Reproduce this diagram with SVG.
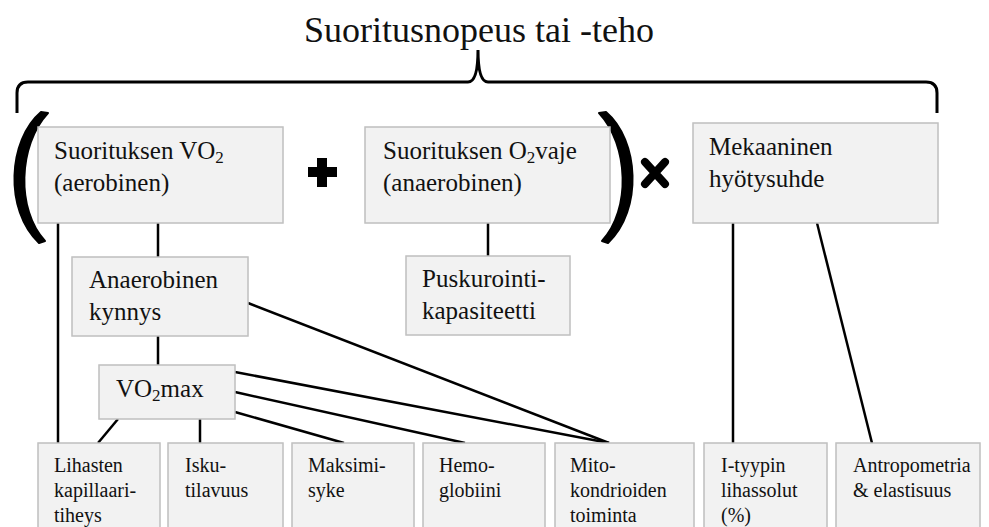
<svg xmlns="http://www.w3.org/2000/svg" width="989" height="527" viewBox="0 0 989 527">
<style>
.box{fill:#f2f2f2;stroke:#bfbfbf;stroke-width:1.5}
.c{stroke:#000;stroke-width:2.5;fill:none}
</style>
<rect width="989" height="527" fill="#fff"/>
<text x="479" y="42" font-size="36" font-family="Liberation Serif" fill="#111" text-anchor="middle">Suoritusnopeus tai -teho</text>
<path d="M17,113 V93 Q17,82 28,82 H468 Q478,82 478,50 Q478,82 488,82 H926 Q937,82 937,93 V113" fill="none" stroke="#000" stroke-width="3"/>
<path d="M41,112 C8,140 4,210 39,243 L45,241 C16,210 18,145 48,113 Z" fill="#000" stroke="#000" stroke-width="2" stroke-linejoin="round"/>
<path d="M606,112 C639,140 643,210 608,243 L602,241 C631,210 629,145 599,113 Z" fill="#000" stroke="#000" stroke-width="2" stroke-linejoin="round"/>
<path d="M322,158 V187 M308,172 H337" stroke="#000" stroke-width="10"/>
<path d="M645,162 L665,184 M665,162 L645,184" stroke="#000" stroke-width="8" stroke-linecap="round"/>
<g id="connectors">
<line class="c" x1="58" y1="223" x2="58" y2="443"/>
<line class="c" x1="158" y1="223" x2="158" y2="257"/>
<line class="c" x1="158" y1="336" x2="158" y2="365"/>
<line class="c" x1="488" y1="223" x2="488" y2="256"/>
<line class="c" x1="733" y1="223" x2="733" y2="443"/>
<line class="c" x1="817" y1="223" x2="872" y2="443"/>
<line class="c" x1="248" y1="303" x2="609" y2="443"/>
<line class="c" x1="235" y1="372" x2="609" y2="443"/>
<line class="c" x1="235" y1="392" x2="465" y2="443"/>
<line class="c" x1="235" y1="412" x2="344" y2="443"/>
<line class="c" x1="200" y1="419" x2="200" y2="443"/>
<line class="c" x1="118" y1="419" x2="98" y2="443"/>
</g>
<g id="n-aerob"><rect class="box" x="38" y="127" width="245" height="96"/>
<text x="54" y="159" font-family="Liberation Serif" font-size="25" fill="#111">Suorituksen VO<tspan font-size="17" dy="4">2</tspan></text>
<text x="54" y="191" font-family="Liberation Serif" font-size="25" fill="#111">(aerobinen)</text></g>
<g id="n-anaerob"><rect class="box" x="365" y="127" width="245" height="96"/>
<text x="383" y="159" font-family="Liberation Serif" font-size="25" fill="#111">Suorituksen O<tspan font-size="17" dy="4">2</tspan><tspan dy="-4">vaje</tspan></text>
<text x="383" y="191" font-family="Liberation Serif" font-size="25" fill="#111">(anaerobinen)</text></g>
<g id="n-mek"><rect class="box" x="693" y="123" width="245" height="100"/>
<text x="709" y="155" font-family="Liberation Serif" font-size="25" fill="#111">Mekaaninen</text>
<text x="709" y="187" font-family="Liberation Serif" font-size="25" fill="#111">hyötysuhde</text></g>
<g id="n-kynnys"><rect class="box" x="72" y="257" width="176" height="79"/>
<text x="89" y="288" font-family="Liberation Serif" font-size="25" fill="#111">Anaerobinen</text>
<text x="89" y="320" font-family="Liberation Serif" font-size="25" fill="#111">kynnys</text></g>
<g id="n-pusk"><rect class="box" x="406" y="256" width="164" height="79"/>
<text x="422" y="287" font-family="Liberation Serif" font-size="25" fill="#111">Puskurointi-</text>
<text x="422" y="319" font-family="Liberation Serif" font-size="25" fill="#111">kapasiteetti</text></g>
<g id="n-vo2max"><rect class="box" x="99" y="365" width="136" height="54"/>
<text x="116" y="397" font-family="Liberation Serif" font-size="25" fill="#111">VO<tspan font-size="17" dy="4">2</tspan><tspan dy="-4">max</tspan></text></g>
<g id="n-lihasten"><rect class="box" x="38" y="443" width="122" height="100"/>
<text x="54" y="472" font-family="Liberation Serif" font-size="20" fill="#111">Lihasten</text>
<text x="54" y="497" font-family="Liberation Serif" font-size="20" fill="#111">kapillaari-</text>
<text x="54" y="522" font-family="Liberation Serif" font-size="20" fill="#111">tiheys</text></g>
<g id="n-isku"><rect class="box" x="168" y="443" width="115" height="100"/>
<text x="185" y="472" font-family="Liberation Serif" font-size="20" fill="#111">Isku-</text>
<text x="185" y="497" font-family="Liberation Serif" font-size="20" fill="#111">tilavuus</text></g>
<g id="n-maksimi"><rect class="box" x="292" y="443" width="122" height="100"/>
<text x="308" y="472" font-family="Liberation Serif" font-size="20" fill="#111">Maksimi-</text>
<text x="308" y="497" font-family="Liberation Serif" font-size="20" fill="#111">syke</text></g>
<g id="n-hemo"><rect class="box" x="423" y="443" width="122" height="100"/>
<text x="439" y="472" font-family="Liberation Serif" font-size="20" fill="#111">Hemo-</text>
<text x="439" y="497" font-family="Liberation Serif" font-size="20" fill="#111">globiini</text></g>
<g id="n-mito"><rect class="box" x="555" y="443" width="139" height="100"/>
<text x="570" y="472" font-family="Liberation Serif" font-size="20" fill="#111">Mito-</text>
<text x="570" y="497" font-family="Liberation Serif" font-size="20" fill="#111">kondrioiden</text>
<text x="570" y="522" font-family="Liberation Serif" font-size="20" fill="#111">toiminta</text></g>
<g id="n-ityyppi"><rect class="box" x="704" y="443" width="123" height="100"/>
<text x="721" y="472" font-family="Liberation Serif" font-size="20" fill="#111">I-tyypin</text>
<text x="721" y="497" font-family="Liberation Serif" font-size="20" fill="#111">lihassolut</text>
<text x="721" y="522" font-family="Liberation Serif" font-size="20" fill="#111">(%)</text></g>
<g id="n-antro"><rect class="box" x="836" y="443" width="144" height="100"/>
<text x="853" y="472" font-family="Liberation Serif" font-size="20" fill="#111">Antropometria</text>
<text x="853" y="497" font-family="Liberation Serif" font-size="20" fill="#111">&amp; elastisuus</text></g>
</svg>
